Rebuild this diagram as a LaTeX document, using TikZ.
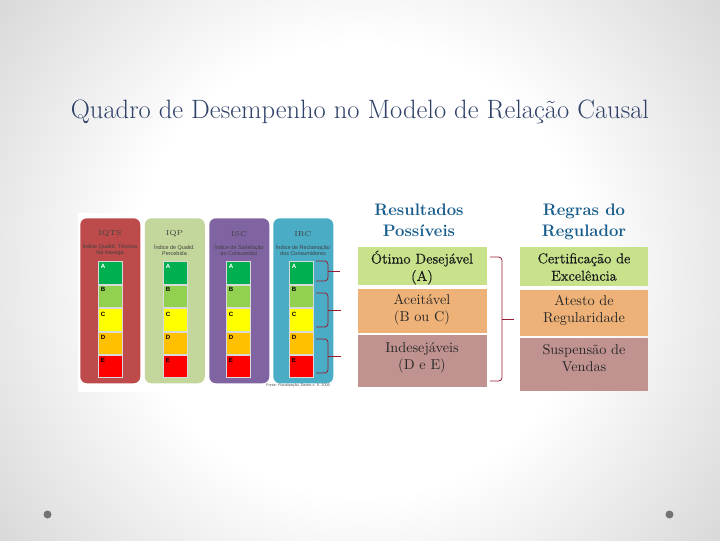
\documentclass[tikz,border=0pt]{standalone}
\usepackage{fontspec}
\setsansfont{Liberation Sans}
\newfontfamily\semibold[FakeBold=0.35]{Latin Modern Roman}
\definecolor{titlecol}{RGB}{48,66,105}
\definecolor{headblue}{RGB}{22,92,140}
\definecolor{txt}{RGB}{40,40,40}
\definecolor{bracered}{RGB}{150,30,50}
\definecolor{rowgreen}{RGB}{200,226,140}
\definecolor{roworange}{RGB}{238,178,120}
\definecolor{rowrose}{RGB}{192,146,144}
\definecolor{cardred}{RGB}{190,75,75}
\definecolor{cardgreen}{RGB}{195,214,155}
\definecolor{cardpurple}{RGB}{128,100,162}
\definecolor{cardteal}{RGB}{75,172,198}
\definecolor{gA}{RGB}{0,176,80}
\definecolor{gB}{RGB}{146,208,80}
\definecolor{gC}{RGB}{255,255,0}
\definecolor{gD}{RGB}{255,192,0}
\definecolor{gE}{RGB}{255,0,0}
\pgfdeclareradialshading{vign}{\pgfpoint{0pt}{0pt}}{
 color(0pt)=(white); color(170pt)=(white); color(338pt)=(black!15)}
\tikzset{
 cardbox/.style={rounded corners=5pt,minimum width=45pt,minimum height=123.75pt,anchor=north west,inner sep=0},
 grade/.style={minimum width=18pt,minimum height=17pt,anchor=north west,inner sep=0,draw=white!70!gray,line width=.3pt},
 gradelab/.style={font=\sffamily\bfseries\fontsize{4.6}{5}\selectfont,inner sep=0},
 cardhead/.style={font=\fontsize{5.4}{5.4}\selectfont,align=center,text=black!75,inner sep=0},
 cardsub/.style={font=\sffamily\fontsize{4.1}{4.7}\selectfont,align=center,text=black!75,inner sep=0},
 rowbox/.style={inner sep=0,anchor=north west},
 rowlab/.style={font=\fontsize{10.7}{13}\selectfont,align=center,text=txt,inner sep=0},
 rowstrong/.style={font=\semibold\fontsize{10.7}{13}\selectfont,align=center,text=black!90,inner sep=0},
 headlab/.style={font=\fontsize{12.5}{15.6}\selectfont\bfseries,align=center,text=headblue,inner sep=0},
 brk/.style={draw=bracered,line width=.6pt,rounded corners=2.5pt},
 dotmark/.style={circle,fill=black!55,inner sep=0,minimum size=6pt}
}
\newcommand{\brk}[6]{% name, xstart, ytop, ybot, xv, xtip ; mid = (ytop+ybot)/2
 \coordinate (#1t) at (#2,#3);
 \coordinate (#1b) at (#2,#4);
 \coordinate (#1vt) at (#5,#3);
 \coordinate (#1vb) at (#5,#4);
 \coordinate (#1m) at (#5,{(#3+#4)/2});
 \coordinate (#1tip) at (#6,{(#3+#4)/2});
 \draw[brk] (#1t) -- (#1vt) -- (#1vb) -- (#1b);
 \draw[brk] (#1m) -- (#1tip);
}
\newcommand{\card}[6]{% name, x, colour, head, sub, gradex
 \node[cardbox,fill=#3] (#1) at (#2,218) {};
 \node[cardhead] (#1h) at ({#2+30},234) {#4};
 \node[cardsub] (#1s) at ({#2+30},250) {#5};
 \node[grade,fill=gA] (#1A) at (#6,261) {};
 \node[grade,fill=gB] (#1B) at (#6,284.5) {};
 \node[grade,fill=gC] (#1C) at (#6,308) {};
 \node[grade,fill=gD] (#1D) at (#6,331.5) {};
 \node[grade,fill=gE] (#1E) at (#6,354.5) {};
 \node[gradelab,text=white] (#1a) at ({#6+5},266) {A};
 \node[gradelab] (#1b) at ({#6+5},289) {B};
 \node[gradelab] (#1c) at ({#6+5},314) {C};
 \node[gradelab] (#1d) at ({#6+5},337) {D};
 \node[gradelab] (#1e) at ({#6+5},360) {E};
}
\begin{document}
\begin{tikzpicture}[x=.75pt,y=-.75pt]
\useasboundingbox (0,0) rectangle (720,540);
\begin{scope}
\clip (0,0) rectangle (720,540);
\node[inner sep=0] (bg) at (360,270) {\pgfuseshading{vign}};
\end{scope}
\node[font=\fontsize{19.9}{22}\selectfont,text=titlecol,inner sep=0] (title) at (360,112) {Quadro de Desempenho no Modelo de Relação Causal};
\node[inner sep=0,minimum width=192.75pt,minimum height=134.25pt,anchor=north west,fill=white] (panel) at (78,213) {};
\card{c1}{80}{cardred}{IQTS}{Índice Qualid. Técnica\\Na Navega}{98}
\card{c2}{144.5}{cardgreen}{IQP}{Índice de Qualid.\\Percebida}{163}
\card{c3}{209}{cardpurple}{ISC}{Índice de Satisfação\\do Consumidor}{226}
\card{c4}{273}{cardteal}{IRC}{Índice de Reclamação\\dos Consumidores}{289}
\node[font=\sffamily\fontsize{2.8}{3}\selectfont,text=black!70,inner sep=0] (src) at (298,386) {Fonte: Fiscalização, Dados x. S. 2009};
\brk{b1}{316}{261}{281}{328}{340}
\brk{b2}{316}{293}{327}{328}{341}
\brk{b3}{316}{339}{373}{328}{341}
\node[headlab] (h1) at (419,220.5) {Resultados\\Possíveis};
\node[headlab] (h2) at (584,222) {Regras do\\Regulador};
\node[rowbox,fill=rowgreen,minimum width=96.75pt,minimum height=28.5pt] (l1) at (358,247) {};
\node[rowbox,fill=roworange,minimum width=96.75pt,minimum height=33pt] (l2) at (358,289) {};
\node[rowbox,fill=rowrose,minimum width=96.75pt,minimum height=39pt] (l3) at (358,335) {};
\node[rowbox,fill=rowgreen,minimum width=96pt,minimum height=29.25pt] (r1) at (520,247) {};
\node[rowbox,fill=roworange,minimum width=96pt,minimum height=34.5pt] (r2) at (520,290) {};
\node[rowbox,fill=rowrose,minimum width=96pt,minimum height=39.75pt] (r3) at (520,338) {};
\node[rowstrong] (lt1) at (422,267.5) {Ótimo Desejável\\(A)};
\node[rowlab] (lt2) at (422,309.5) {Aceitável\\(B ou C)};
\node[rowlab] (lt3) at (422,358) {Indesejáveis\\(D e E)};
\node[rowstrong] (rt1) at (584,267) {Certificação de\\Excelência};
\node[rowlab] (rt2) at (584,310.5) {Atesto de\\Regularidade};
\node[rowlab] (rt3) at (584,358) {Suspensão de\\Vendas};
\brk{big}{490}{257}{381}{502}{514}
\node[dotmark] (d1) at (47.5,514.5) {};
\node[dotmark] (d2) at (669.5,514.5) {};
\end{tikzpicture}
\end{document}
